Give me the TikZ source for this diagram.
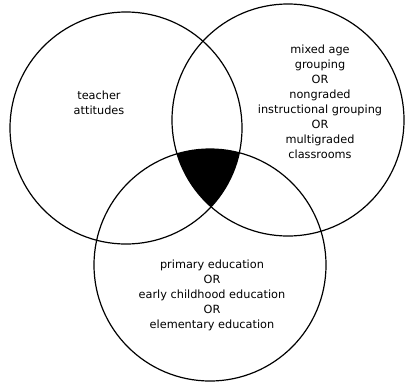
\documentclass[tikz,border=0pt]{standalone}
\usepackage{fontspec}
\setmainfont{DejaVu Sans}
\begin{document}
\begin{tikzpicture}[x=1pt,y=-1pt,
  ring/.style={draw=black,line width=1.2pt},
  lbl/.style={align=center,font=\fontsize{11.3}{15}\selectfont,inner sep=0pt}]
\useasboundingbox (0,0) rectangle (406,381);
\coordinate (cl) at (126,128);
\coordinate (cr) at (288,120);
\coordinate (cb) at (210,265);
\begin{scope}
  \clip (cl) circle[radius=116pt];
  \clip (cr) circle[radius=116pt];
  \fill[black] (cb) circle[radius=116pt];
\end{scope}
\draw[ring] (cl) circle[radius=116pt];
\draw[ring] (cr) circle[radius=116pt];
\draw[ring] (cb) circle[radius=116pt];
\node[lbl] (t1) at (99,102.5) {teacher\\attitudes};
\node[lbl] (t2) at (320,101.5) {mixed age\\grouping\\OR\\nongraded\\instructional grouping\\OR\\multigraded\\classrooms};
\node[lbl] (t3) at (212,295) {primary education\\OR\\early childhood education\\OR\\elementary education};
\end{tikzpicture}
\end{document}
